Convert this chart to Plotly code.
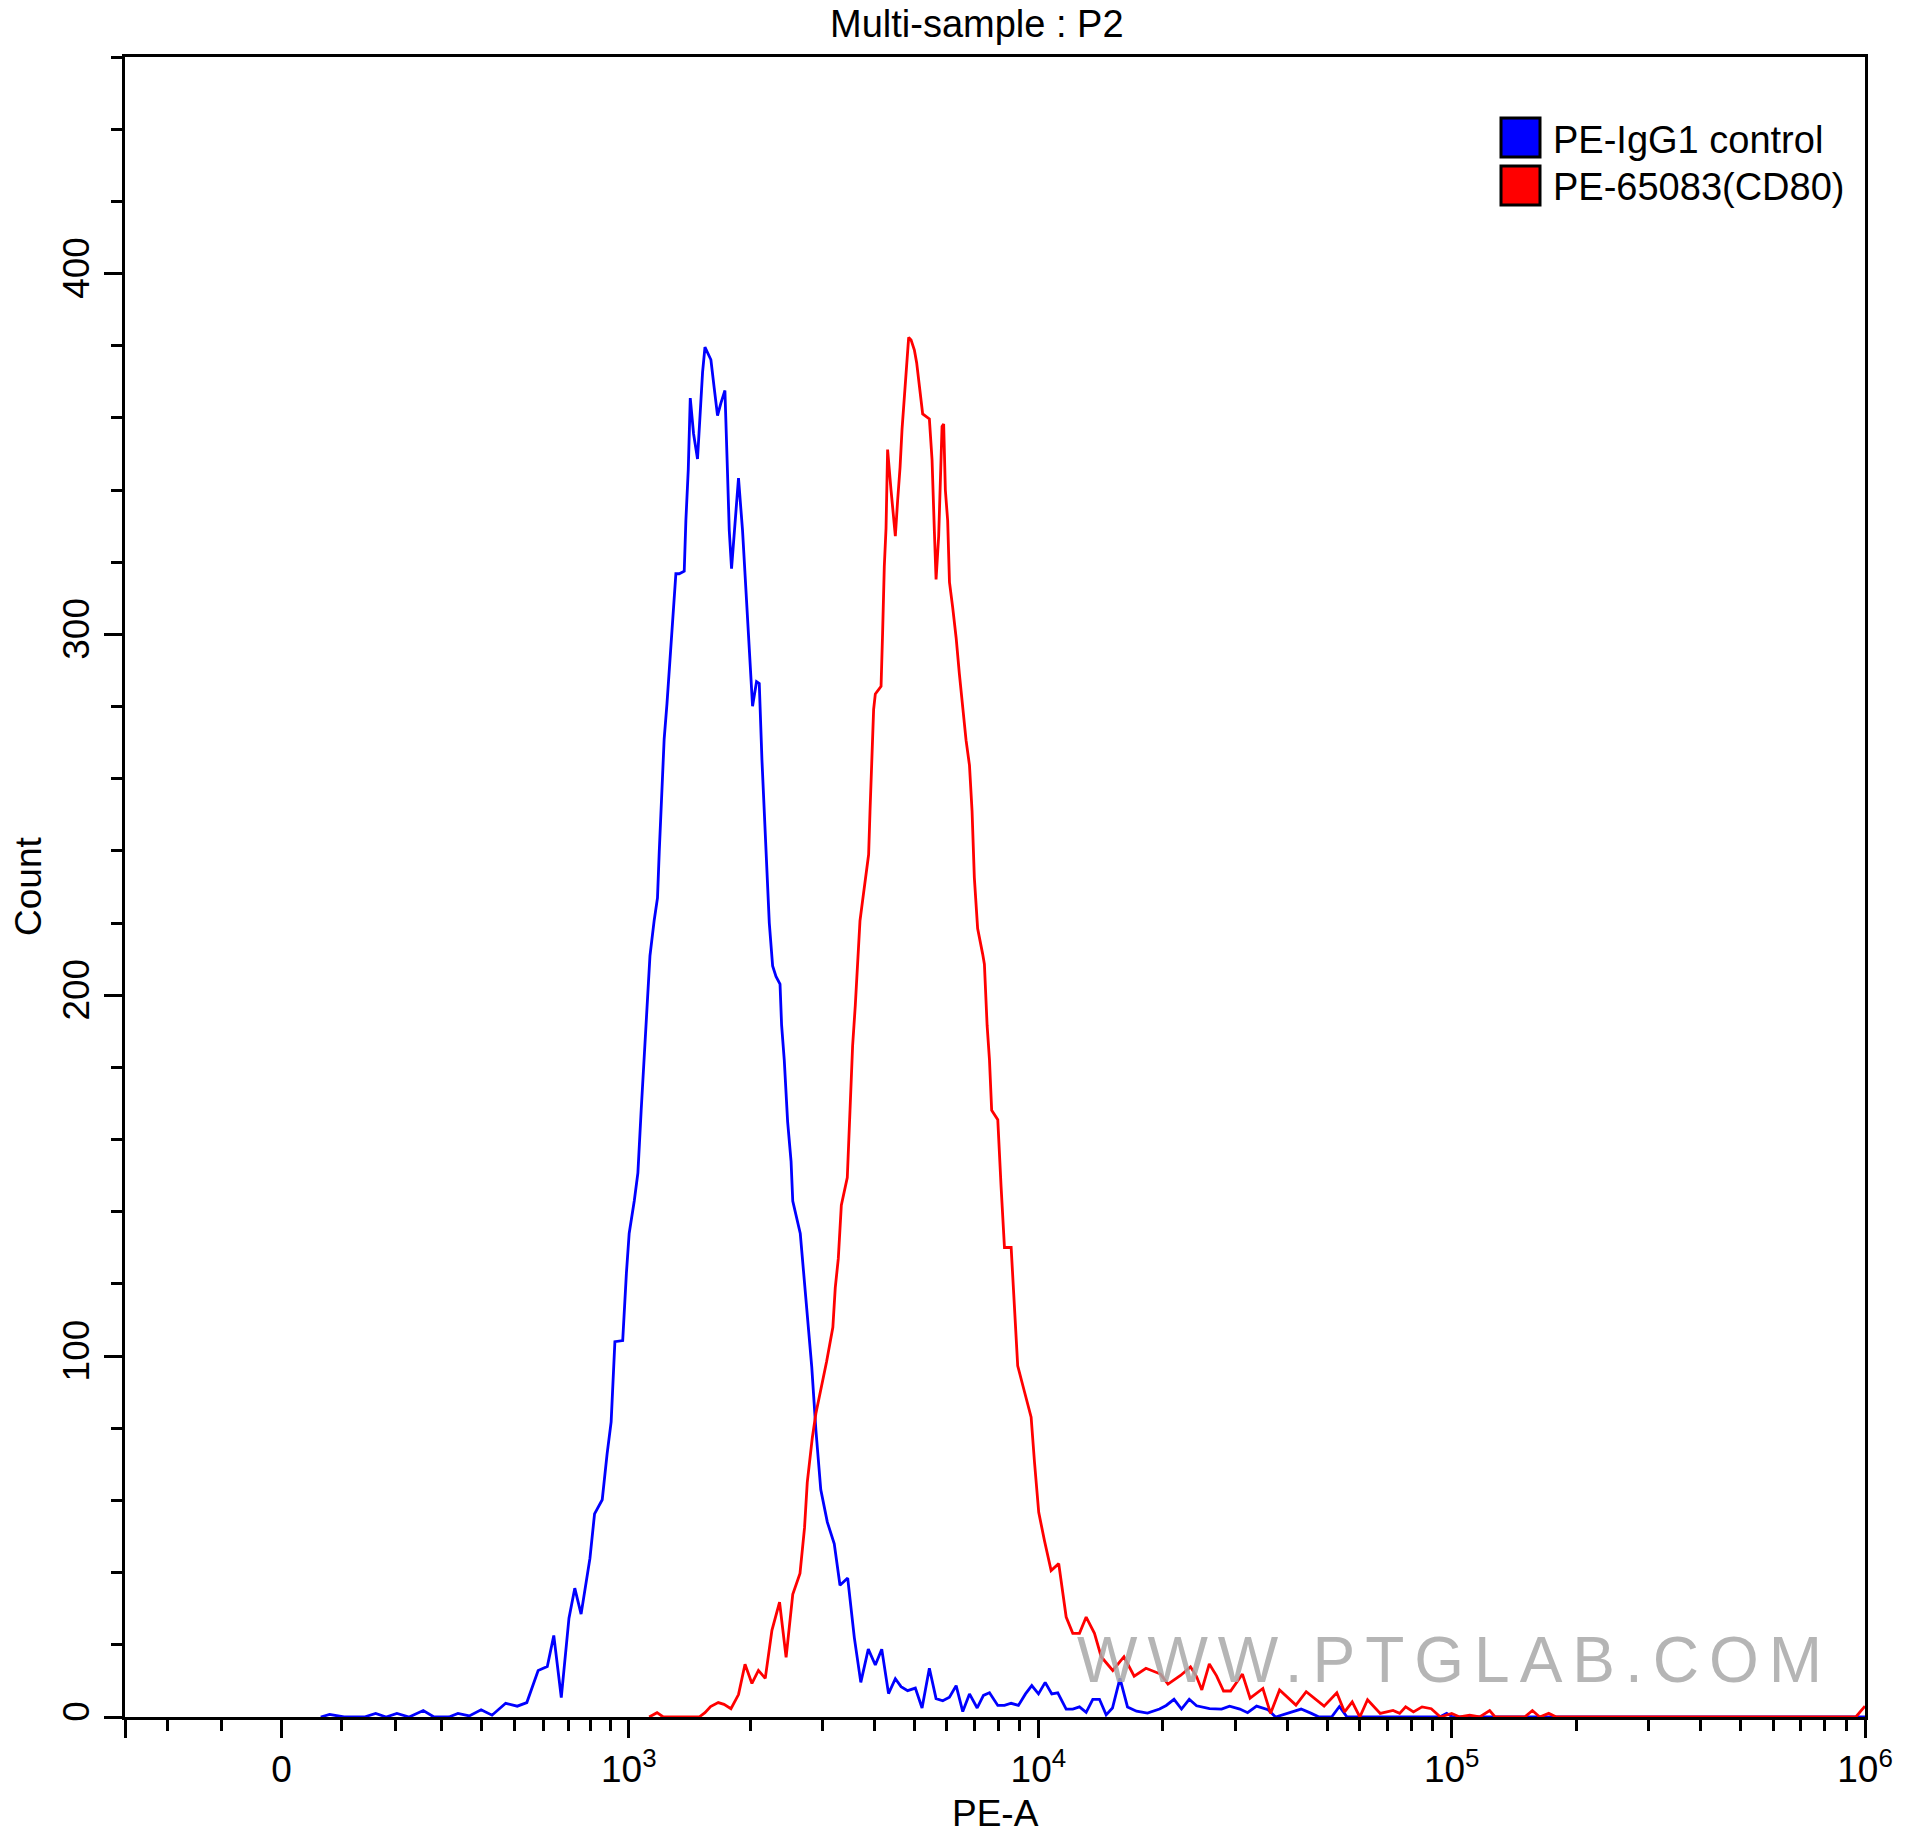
import numpy as np
import plotly.graph_objects as go

# ---------------- data (PE-A intensity, event count) ----------------
blue_pe = [65, 80, 105, 141, 162, 182, 203, 228, 258, 282,
           317, 339, 368, 400, 431, 472, 509, 541, 581, 615,
           640, 670, 702, 727, 755, 796, 818, 856, 881, 902,
           922, 965, 986, 1002, 1032, 1054, 1074, 1093, 1114, 1130,
           1158, 1180, 1192, 1210, 1226, 1246, 1267, 1286, 1311, 1336,
           1375, 1388, 1407, 1423, 1450, 1483, 1503, 1526, 1547, 1600,
           1630, 1661, 1693, 1732, 1758, 1775, 1798, 1833, 1870, 1913,
           1950, 1976, 2006, 2024, 2070, 2102, 2134, 2170, 2195, 2224,
           2266, 2309, 2362, 2383, 2419, 2465, 2513, 2537, 2646, 2737,
           2822, 2888, 2968, 3079, 3201, 3305, 3451, 3581, 3713, 3872,
           4027, 4174, 4335, 4503, 4649, 4823, 5035, 5227, 5445, 5652,
           5868, 6091, 6322, 6560, 6810, 7109, 7362, 7614, 7974, 8277,
           8591, 8947, 9305, 9638, 10005, 10385, 10775, 11141, 11674, 12112,
           12572, 13050, 13540, 14054, 14588, 15111, 15755, 16430, 17275, 18364,
           19640, 20385, 21292, 22199, 23175, 24138, 25948, 27750, 29013, 30732,
           32077, 33727, 35940, 37495, 40263, 43223, 45752, 47763, 51221, 53498,
           55815, 93520, 97250, 100550, 1000000]
blue_count = [0, 0.7, 0, 0, 1, 0, 1, 0, 1.8, 0,
              0, 1, 0.3, 2, 0.5, 3.8, 3, 4, 12.9, 14,
              22.6, 5.4, 27.4, 35.7, 28.5, 44, 56.3, 60.2, 73, 81.8,
              104, 104.3, 123, 134, 143, 150.8, 168, 183, 200, 210.9,
              220.8, 227, 239.8, 258.2, 271, 280.8, 293.5, 303.4, 316.8, 316.8,
              317.5, 331.6, 345.7, 365.5, 355.6, 348.6, 359.9, 372.6, 379.6, 376.1,
              368.3, 360.6, 364.1, 367.6, 344.3, 328.8, 318.2, 330.2, 343.3, 328.8,
              311.9, 299.1, 287.8, 280.1, 286.9, 286.4, 265.2, 245.5, 231.4, 220,
              208.1, 205.2, 203.1, 191.8, 182, 165, 154, 143, 134, 114,
              97, 79.6, 63, 54, 48, 36.5, 38.5, 22, 9.6, 18.8,
              14.4, 18.8, 6.5, 10.6, 8.4, 7.3, 8, 2.5, 13.5, 5.1,
              4.5, 5.5, 8.7, 1.5, 6.4, 2.5, 6, 6.7, 3.2, 3.2,
              3.8, 3.2, 6.4, 8.7, 6.4, 9.6, 6.4, 6.7, 2.2, 2.2,
              2.8, 1.3, 4.9, 4.9, 0.6, 2.5, 10.7, 2.8, 1.6, 1.1,
              2.2, 3.2, 4.9, 2.2, 4.9, 3.1, 2.3, 2.2, 3, 2.2,
              1.2, 3, 2, 0, 1, 2.2, 1, 0, 0, 2.9,
              0, 0, 1, 0, 0]

red_pe = [1125, 1177, 1220, 1497, 1547, 1597, 1668, 1723, 1792, 1870,
          1940, 2017, 2092, 2174, 2257, 2356, 2444, 2537, 2642, 2710,
          2752, 2831, 2888, 2960, 3067, 3176, 3219, 3274, 3330, 3443,
          3498, 3547, 3601, 3648, 3696, 3751, 3823, 3879, 3909, 3944,
          3989, 4027, 4158, 4194, 4234, 4275, 4313, 4396, 4453, 4503,
          4561, 4623, 4675, 4736, 4796, 4851, 4916, 5008, 5072, 5149,
          5245, 5445, 5527, 5599, 5652, 5735, 5812, 5844, 5897, 5953,
          6030, 6091, 6201, 6322, 6436, 6560, 6681, 6810, 6909, 6997,
          7127, 7330, 7401, 7513, 7614, 7707, 7974, 8123, 8277, 8591,
          8748, 8911, 9250, 9603, 9782, 10018, 10342, 10735, 11200, 11674,
          12112, 12572, 13050, 13668, 14190, 15135, 16110, 17052, 18212, 19749,
          20588, 22076, 23342, 24138, 24858, 25918, 26985, 28059, 29180, 31174,
          32530, 34931, 36457, 38332, 41995, 44464, 49129, 52736, 55069, 57456,
          59944, 62583, 67161, 72129, 74840, 77380, 80815, 84780, 89250, 93930,
          100005, 104550, 110540, 116880, 123580, 127370, 150200, 156780, 163310, 171720,
          179150, 950000, 1000000]
red_count = [0, 1.2, 0, 0, 1.2, 2.9, 4, 3.5, 2.3, 6.2,
             14.6, 9.3, 12.9, 10.7, 24, 31.8, 16.5, 34, 39.8, 52.4,
             65, 77.4, 84.1, 90, 98.5, 108, 119, 127, 141.8, 149.5,
             168, 186, 197.3, 208.6, 220.6, 226.3, 234, 239, 251, 265.1,
             279.2, 283.5, 285.6, 300.4, 318.8, 329.4, 351.2, 340, 332.9, 327.2,
             337.1, 346.3, 356.9, 366.8, 375.3, 382.3, 381.6, 378.8, 375.3, 368.2,
             361.1, 359.7, 348.4, 328.6, 315.2, 327.2, 345.6, 357.6, 358.3, 340,
             331.5, 314.5, 307.5, 299, 289.1, 279.2, 270.7, 263.7, 251, 232.6,
             218.5, 211.4, 208.6, 191.7, 182, 168.1, 165.5, 146.9, 130.1, 130.1,
             114.6, 97.3, 90.2, 83.1, 70.8, 56.7, 48.9, 40.6, 42.5, 27.7,
             23.2, 23.2, 27.7, 23.2, 16.7, 12.9, 16.7, 11.3, 13.5, 11.9,
             9.1, 11.5, 13.9, 11.2, 7.5, 14.7, 11.4, 7.2, 7.2, 11.9,
             5.2, 7.9, 1, 7.5, 3.3, 7, 3, 6.7, 1.4, 4.2,
             0, 4.8, 1, 1.8, 1, 2.8, 1.4, 2.8, 2.3, 0,
             1, 0, 0.5, 0, 1.8, 0, 0, 1.8, 0, 1,
             0, 0, 3]

series_names = ["PE-IgG1 control", "PE-65083(CD80)"]
series_colors = ["#0000FF", "#FF0000"]

x_major_vals = [-291, 0, 1e3, 1e4, 1e5, 1e6]
x_major_text = [" ", "0", "10<sup>3</sup>", "10<sup>4</sup>", "10<sup>5</sup>", "10<sup>6</sup>"]
x_minor_vals = ([-200, -100] + [100 * k for k in range(1, 10)]
                + [1000 * k for k in range(2, 10)] + [10000 * k for k in range(2, 10)]
                + [100000 * k for k in range(2, 10)])
y_major_vals = [0, 100, 200, 300, 400]

# ---------------- biexponential (arcsinh) display transform ----------------
COF = 295.0


def biex(v):
    return np.arcsinh(np.asarray(v, dtype=float) / COF)


FONT = "Liberation Sans, Arial, sans-serif"
W, H = 1912, 1834
L, R, T, B = 125, 47, 57, 117
PW, PH = W - L - R, H - T - B


def px(xp):
    return (xp - L) / PW


def py(yp):
    return (H - B - yp) / PH


fig = go.Figure()
for xs, ys, name, col in [(blue_pe, blue_count, series_names[0], series_colors[0]),
                          (red_pe, red_count, series_names[1], series_colors[1])]:
    fig.add_trace(go.Scatter(x=biex(xs), y=ys, mode="lines", name=name,
                             line=dict(color=col, width=2.8), showlegend=False,
                             hoverinfo="skip"))

axis_common = dict(showline=True, linewidth=3, linecolor="black", mirror=True,
                   showgrid=False, zeroline=False, ticks="outside", ticklen=18,
                   tickwidth=3, tickcolor="black",
                   tickfont=dict(family=FONT, size=37, color="black"))

fig.update_xaxes(range=[float(biex(-291)), float(biex(1e6))], tickmode="array",
                 tickvals=biex(x_major_vals), ticktext=x_major_text,
                 minor=dict(tickmode="array", tickvals=biex(x_minor_vals), ticks="outside",
                            ticklen=11, tickwidth=3, tickcolor="black", showgrid=False),
                 **axis_common)
fig.update_yaxes(range=[0, 460], tickmode="array", tickvals=y_major_vals,
                 ticktext=[str(v) for v in y_major_vals], tickangle=-90,
                 minor=dict(dtick=20, ticks="outside", ticklen=11, tickwidth=3,
                            tickcolor="black", showgrid=False),
                 **axis_common)

annots = [
    dict(text="Multi-sample : P2", x=px(977), y=py(24), size=38),
    dict(text="PE-A", x=0.5, y=py(1813), size=37),
    dict(text="Count", x=px(28), y=0.5, size=37, angle=-90),
]
ann_list = []
for a in annots:
    ann_list.append(dict(text=a["text"], x=a["x"], y=a["y"], xref="paper", yref="paper",
                         xanchor="center", yanchor="middle", showarrow=False,
                         textangle=a.get("angle", 0),
                         font=dict(family=FONT, size=a["size"], color="black")))

# legend (squares + labels)
shapes = []
for i, (name, col) in enumerate(zip(series_names, series_colors)):
    y0p, y1p = 118 + i * 48, 157 + i * 48
    shapes.append(dict(type="rect", xref="paper", yref="paper",
                       x0=px(1501), x1=px(1540), y0=py(y1p), y1=py(y0p),
                       fillcolor=col, line=dict(color="black", width=3)))
    ann_list.append(dict(text=name, x=px(1551), y=py(140 + i * 47), xref="paper", yref="paper",
                         xanchor="left", yanchor="middle", showarrow=False,
                         font=dict(family=FONT, size=38, color="black")))

# watermark
ann_list.append(dict(text='<span style="letter-spacing:10px">WWW.PTGLAB.COM</span>',
                     x=px(1454), y=py(1660), xref="paper", yref="paper",
                     xanchor="center", yanchor="middle", showarrow=False, opacity=0.85,
                     font=dict(family=FONT, size=64, color="#a9a9a9")))

fig.update_layout(width=W, height=H, margin=dict(l=L, r=R, t=T, b=B),
                  paper_bgcolor="white", plot_bgcolor="white",
                  annotations=ann_list, shapes=shapes, showlegend=False)

fig.write_html("out.html")
